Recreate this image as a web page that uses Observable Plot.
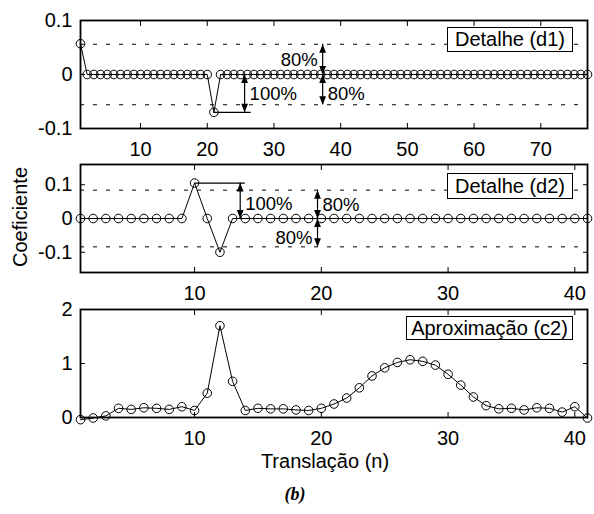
<!DOCTYPE html>
<html><head><meta charset="utf-8">
<script src="https://cdn.jsdelivr.net/npm/d3@7"></script>
<script src="https://cdn.jsdelivr.net/npm/@observablehq/plot@0.6"></script>
<style>
body{margin:0;background:#fff;}
#c{position:relative;width:594px;height:514px;font-family:"Liberation Sans",Arial,Helvetica,sans-serif;color:#000;overflow:hidden;}
.leg{position:absolute;border:1px solid #000;background:#fff;font-size:20px;text-align:center;white-space:nowrap;box-sizing:border-box;}
.lbl{position:absolute;white-space:nowrap;font-size:20px;}
</style></head><body><div id="c"></div>
<script>
// ---- Detalhe (d1): n = 1..77
const d1Values = [0.057,0,0,0,0,0,0,0,0,0,0,0,0,0,0,0,0,0,0,0,-0.070,0,0,0,0,0,0,0,0,0,0,0,0,0,0,0,0,0,0,0,0,0,0,0,0,0,0,0,0,0,0,0,0,0,0,0,0,0,0,0,0,0,0,0,0,0,0,0,0,0,0,0,0,0,0,0,0];
const d1XTicks = [10,20,30,40,50,60,70];
const d1YTicks = [-0.1,0,0.1];
const d1Dashes = [0.056,-0.056];
const d1Arrows = [{x:25.6,y1:0,y2:-0.070},{x:37.3,y1:0,y2:0.056},{x:37.3,y1:0,y2:-0.056}];
const d1Leaders = [{x1:21,x2:26.6,y:-0.070}];
const d1Labels = [{x:25.6,y:-0.037,text:"100%",side:"right"},{x:37.3,y:0.026,text:"80%",side:"left"},{x:37.3,y:-0.036,text:"80%",side:"right"}];

// ---- Detalhe (d2): n = 1..41
const d2Values = [0,0,0,0,0,0,0,0,0,0.105,0,-0.100,0,0,0,0,0,0,0,0,0,0,0,0,0,0,0,0,0,0,0,0,0,0,0,0,0,0,0,0,0];
const d2XTicks = [10,20,30,40];
const d2YTicks = [-0.1,0,0.1];
const d2Dashes = [0.084,-0.084];
const d2Arrows = [{x:13.6,y1:0.105,y2:0},{x:19.7,y1:0,y2:0.084},{x:19.7,y1:0,y2:-0.084}];
const d2Leaders = [{x1:10,x2:14.0,y:0.105}];
const d2Labels = [{x:13.6,y:0.043,text:"100%",side:"right"},{x:19.7,y:0.040,text:"80%",side:"right"},{x:19.7,y:-0.058,text:"80%",side:"left"}];

// ---- Aproximação (c2): n = 1..41
const c2Values = [-0.04,-0.01,0.03,0.17,0.15,0.18,0.17,0.15,0.20,0.13,0.45,1.70,0.67,0.13,0.17,0.16,0.16,0.14,0.13,0.17,0.25,0.36,0.55,0.77,0.92,1.02,1.07,1.04,0.97,0.80,0.60,0.38,0.22,0.16,0.17,0.14,0.18,0.17,0.10,0.20,-0.01];
const c2XTicks = [10,20,30,40];
const c2YTicks = [0,1,2];

const legendTexts = ["Detalhe (d1)","Detalhe (d2)","Aproximação (c2)"];
const yLabel = "Coeficiente";
const xLabel = "Translação (n)";
const caption = "(b)";

const arrowHead = {draw(ctx){ctx.moveTo(0,0);ctx.lineTo(3.4,8.5);ctx.lineTo(-3.4,8.5);ctx.closePath();}};

function panel(o){
  const data = o.values.map((v,i)=>({n:i+1,v}));
  const heads = (o.arrows||[]).flatMap(a=>[{x:a.x,y:a.y1,up:a.y1>a.y2},{x:a.x,y:a.y2,up:a.y2>a.y1}]);
  const labs = o.labels||[];
  const fmt = d=>String(d);
  const svg = Plot.plot({
    width:594, height:o.height,
    marginLeft:80, marginRight:7, marginTop:o.marginTop, marginBottom:o.height-o.marginTop-108,
    x:{domain:o.xDomain}, y:{domain:o.yDomain},
    style:{fontFamily:"'Liberation Sans', Arial, Helvetica, sans-serif", fontSize:"20px", background:"none", overflow:"visible", color:"black"},
    marks:[
      Plot.ruleY(o.dashes||[], {stroke:"black", strokeWidth:1, strokeDasharray:"4,9"}),
      Plot.line(data,{x:"n",y:"v",stroke:"black",strokeWidth:1}),
      Plot.dot(data,{x:"n",y:"v",r:4.3,stroke:"black",fill:"none",strokeWidth:1}),
      Plot.ruleX(o.arrows||[],{x:"x",y1:"y1",y2:"y2",stroke:"black",strokeWidth:1.2}),
      Plot.ruleY(o.leaders||[],{y:"y",x1:"x1",x2:"x2",stroke:"black",strokeWidth:1.2}),
      Plot.dot(heads,{x:"x",y:"y",symbol:arrowHead,r:4,fill:"black",stroke:"none",rotate:d=>d.up?0:180}),
      Plot.text(labs.filter(d=>d.side==="right"),{x:"x",y:"y",text:"text",textAnchor:"start",dx:5,fontSize:18.5,fill:"black"}),
      Plot.text(labs.filter(d=>d.side==="left"),{x:"x",y:"y",text:"text",textAnchor:"end",dx:-5,fontSize:18.5,fill:"black"}),
      Plot.frame({stroke:"black",strokeWidth:1.8}),
      Plot.axisX(o.xTicks,{anchor:"bottom",tickSize:0,tickPadding:13,fontSize:20,label:null,tickFormat:fmt,fill:"black"}),
      Plot.axisX(o.xTicks,{anchor:"bottom",tickSize:5,dy:-5,fill:"none",label:null}),
      Plot.axisX(o.xTicks,{anchor:"top",tickSize:5,dy:5,fill:"none",label:null}),
      Plot.axisY(o.yTicks,{anchor:"left",tickSize:0,tickPadding:8,fontSize:20,label:null,tickFormat:fmt,fill:"black"}),
      Plot.axisY(o.yTicks,{anchor:"left",tickSize:5,dx:5,fill:"none",label:null}),
      Plot.axisY(o.yTicks,{anchor:"right",tickSize:5,dx:-5,fill:"none",label:null})
    ]
  });
  svg.style.position="absolute"; svg.style.left="0px"; svg.style.top=o.top+"px";
  return svg;
}

const c = document.getElementById("c");
c.appendChild(panel({values:d1Values,xDomain:[1,77],yDomain:[-0.1,0.1],xTicks:d1XTicks,yTicks:d1YTicks,dashes:d1Dashes,arrows:d1Arrows,leaders:d1Leaders,labels:d1Labels,top:0,height:158,marginTop:20}));
c.appendChild(panel({values:d2Values,xDomain:[1,41],yDomain:[-0.16,0.16],xTicks:d2XTicks,yTicks:d2YTicks,dashes:d2Dashes,arrows:d2Arrows,leaders:d2Leaders,labels:d2Labels,top:158,height:146,marginTop:6}));
c.appendChild(panel({values:c2Values,xDomain:[1,41],yDomain:[0,2],xTicks:c2XTicks,yTicks:c2YTicks,top:304,height:143,marginTop:5}));

function addDiv(cls,text,css){const d=document.createElement("div");d.className=cls;d.textContent=text;Object.assign(d.style,css);c.appendChild(d);return d;}
addDiv("leg",legendTexts[0],{left:"447px",top:"27px",width:"126px",height:"25px",lineHeight:"23px"});
addDiv("leg",legendTexts[1],{left:"447px",top:"173px",width:"126px",height:"26px",lineHeight:"24px"});
addDiv("leg",legendTexts[2],{left:"406px",top:"316px",width:"167px",height:"24px",lineHeight:"22px"});
addDiv("lbl",yLabel,{left:"20px",top:"217px",transform:"translate(-50%,-50%) rotate(-90deg)"});
addDiv("lbl",xLabel,{left:"325px",top:"461px",transform:"translate(-50%,-50%)"});
addDiv("lbl",caption,{left:"295px",top:"494px",transform:"translate(-50%,-50%)",fontFamily:"'Liberation Serif','Times New Roman',serif",fontWeight:"bold",fontStyle:"italic",fontSize:"18px"});
</script></body></html>
